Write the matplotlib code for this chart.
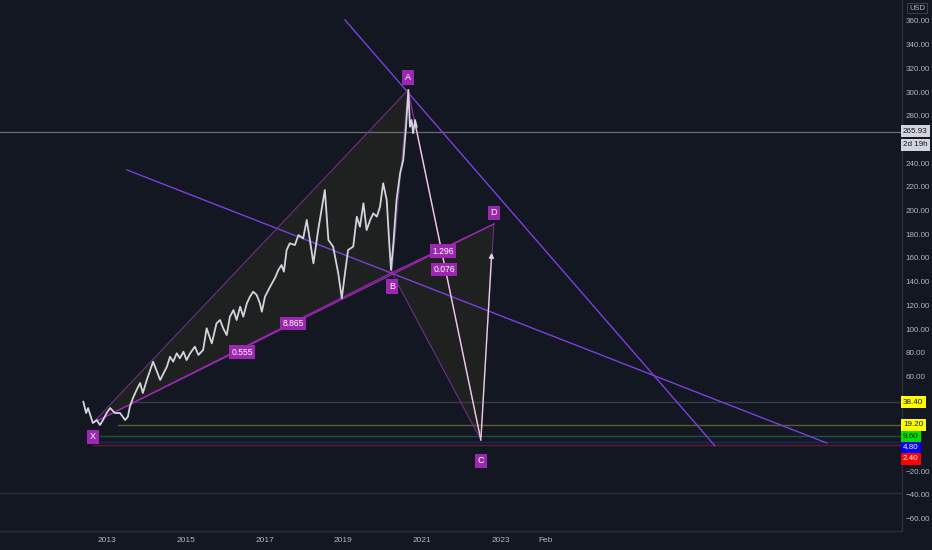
import matplotlib
matplotlib.use('Agg')
import matplotlib.pyplot as plt
from matplotlib.transforms import blended_transform_factory

BG = '#131722'
TXT = '#b2b5be'
plt.rcParams['font.family'] = ['Liberation Sans', 'DejaVu Sans']

# ---- price series (decimal year, USD) ----
years = [2012.40, 2012.47, 2012.52, 2012.64, 2012.74, 2012.82, 2012.90, 2012.99, 2013.08,
         2013.20, 2013.33, 2013.46, 2013.53, 2013.58, 2013.66, 2013.75, 2013.84, 2013.91,
         2014.01, 2014.17, 2014.35, 2014.52, 2014.60, 2014.68, 2014.77, 2014.85, 2014.94,
         2015.02, 2015.11, 2015.23, 2015.32, 2015.44, 2015.53, 2015.66, 2015.78, 2015.87,
         2015.95, 2016.04, 2016.12, 2016.21, 2016.29, 2016.38, 2016.46, 2016.55, 2016.63,
         2016.71, 2016.80, 2016.88, 2016.93, 2017.01, 2017.14, 2017.26, 2017.35, 2017.43,
         2017.49, 2017.56, 2017.64, 2017.77, 2017.86, 2017.98, 2018.07, 2018.15, 2018.24,
         2018.36, 2018.53, 2018.62, 2018.74, 2018.87, 2018.96, 2019.04, 2019.12, 2019.25,
         2019.34, 2019.42, 2019.51, 2019.59, 2019.68, 2019.76, 2019.85, 2019.93, 2020.01,
         2020.10, 2020.17, 2020.21, 2020.27, 2020.35, 2020.44, 2020.52, 2020.59, 2020.65,
         2020.69, 2020.73, 2020.77, 2020.82, 2020.86]
prices = [38.6, 29.1, 33.3, 20.7, 23.2, 19.0, 23.2, 29.1, 33.3,
          29.1, 29.1, 23.2, 26.0, 34.4, 41.8, 48.5, 54.4, 46.0,
          57.0, 72.4, 57.0, 68.2, 76.6, 72.4, 79.5, 75.3, 80.8,
          73.8, 79.5, 85.1, 78.1, 82.3, 100.6, 87.9, 104.8, 107.6,
          100.6, 94.9, 110.4, 116.0, 107.6, 118.8, 110.4, 121.7, 127.3,
          131.5, 128.7, 121.7, 114.6, 127.3, 135.7, 142.8, 149.8, 154.0,
          148.4, 166.7, 172.3, 170.9, 179.3, 176.5, 192.0, 175.1, 155.4,
          183.5, 217.3, 175.1, 169.5, 147.0, 125.9, 147.0, 166.7, 169.5,
          194.8, 186.3, 206.1, 183.5, 192.0, 197.6, 194.8, 203.2, 223.0,
          208.9, 169.5, 149.8, 172.3, 208.9, 231.4, 242.6, 270.7, 301.7,
          270.7, 276.4, 265.2, 276.4, 270.7]

# ---- XABCD pattern ----
pattern_names = ['X', 'A', 'B', 'C', 'D']
pattern_years = [2012.64, 2020.64, 2020.23, 2022.49, 2022.82]
pattern_prices = [20.7, 301.7, 147.5, 6.3, 188.6]
ratio_texts = ['0.555', '8.865', '1.296', '0.076']
ratio_pairs = [(0, 2), (0, 4), (2, 4), (1, 3)]

# projection path (white arrow)
proj_years = [2020.82, 2022.49, 2022.77]
proj_prices = [273.8, 6.3, 166.7]

# trend lines
trend1_years = [2019.04, 2028.43]
trend1_prices = [360.8, 1.5]
trend2_years = [2013.51, 2031.27]
trend2_prices = [234.2, 3.8]

# horizontal levels
level_values = [38.40, 19.20, 9.60, 4.80, 2.40]
level_starts = [2013.58, 2013.28, 2012.82, 2012.66, 2012.64]
lower_level = -38.4
last_price = 265.93
countdown = '2d 19h'

year_ticks = [2013, 2015, 2017, 2019, 2021, 2023, 2024.12]
year_labels = ['2013', '2015', '2017', '2019', '2021', '2023', 'Feb']
price_ticks = [-60, -40, -20, 60, 80, 100, 120, 140, 160, 180, 200, 220, 240, 280, 300, 320, 340, 360]

# ---- styles / layout ----
level_line_colors = ['#383b45', '#5e5e26', '#1d5232', '#1c2766', '#641d26']
level_box_colors = ['#ffff00', '#ffff00', '#00e000', '#0000ff', '#ff0000']
level_text_colors = ['#131722', '#131722', '#131722', '#ffffff', '#ffffff']
level_label_y = [38.4, 19.0, 9.0, -0.4, -9.7]
PURPLE = '#9c27b0'
PURPLE_DIM = '#6f2d86'
TREND = '#7b3fe0'
FS = 5.8

W, H = 932, 550
fig = plt.figure(figsize=(W / 100, H / 100), dpi=100, facecolor=BG)
ax = fig.add_axes([0, 19 / H, 902 / W, 1 - 19 / H], facecolor=BG)
ax.set_xlim(2010.284, 2033.18)
ax.set_ylim(-70.46, 377.64)

# pattern fills
px, py = pattern_years, pattern_prices
ax.fill([px[0], px[1], px[2]], [py[0], py[1], py[2]], color='#1e2120', lw=0, zorder=1)
ax.fill([px[2], px[3], px[4]], [py[2], py[3], py[4]], color='#1e2120', lw=0, zorder=1)

# horizontal lines
ax.axhline(last_price, color='#6a6d78', lw=0.9, zorder=2)
ax.axhline(lower_level, color='#2a2e39', lw=1.0, zorder=2)
for v, s, c in zip(level_values, level_starts, level_line_colors):
    ax.plot([s, 2033.18], [v, v], color=c, lw=1.0, zorder=2)

# trend lines
ax.plot(trend1_years, trend1_prices, color=TREND, lw=1.0, zorder=3)
ax.plot(trend2_years, trend2_prices, color=TREND, lw=1.0, zorder=3)

# pattern legs and ratio lines
ax.plot(px, py, color=PURPLE_DIM, lw=0.8, zorder=3)
for (i, j) in ratio_pairs:
    ax.plot([px[i], px[j]], [py[i], py[j]], color=PURPLE, lw=0.9, zorder=3)

# price line
ax.plot(years, prices, color='#d1d4dc', lw=1.3, zorder=4)

# projection arrow
ax.plot(proj_years[:2], proj_prices[:2], color='#e8cce0', lw=1.0, zorder=5)
ax.annotate('', xy=(proj_years[2], proj_prices[2]), xytext=(proj_years[1], proj_prices[1]),
            arrowprops=dict(arrowstyle='-|>', color='#e8cce0', lw=1.0, mutation_scale=7), zorder=5)

# pattern point labels
offsets = [(0, -10), (0, 9), (0, -10), (0, -15), (0, 8)]
for name, x, y, off in zip(pattern_names, px, py, offsets):
    ax.annotate(name, (x, y), xytext=off, textcoords='offset points', ha='center', va='center',
                fontsize=6.5, color='white', zorder=7,
                bbox=dict(boxstyle='square,pad=0.3', fc=PURPLE, ec='none'))

# ratio labels
ratio_dy = [-3, 0, -2, -3]
for t, (i, j), dy in zip(ratio_texts, ratio_pairs, ratio_dy):
    mx, my = (px[i] + px[j]) / 2, (py[i] + py[j]) / 2
    ax.annotate(t, (mx, my), xytext=(0, dy), textcoords='offset points', ha='center', va='center',
                fontsize=6.2, color='white', zorder=7,
                bbox=dict(boxstyle='square,pad=0.25', fc=PURPLE, ec='none'))

# axes styling
for s in ['top', 'left']:
    ax.spines[s].set_visible(False)
for s in ['right', 'bottom']:
    ax.spines[s].set_color('#2a2e39')
    ax.spines[s].set_linewidth(1)
ax.yaxis.tick_right()
ax.set_yticks(price_ticks)
ax.set_yticklabels([f'{v:.2f}'.replace('-', '\u2212') for v in price_ticks])
ax.set_xticks(year_ticks)
ax.set_xticklabels(year_labels)
ax.tick_params(axis='y', length=0, pad=2.5, labelsize=FS, colors=TXT)
ax.tick_params(axis='x', length=0, pad=4, labelsize=6, colors=TXT)

# right axis price labels
tr = blended_transform_factory(fig.transFigure, ax.transData)
xlab = 903 / W
for v, ly, bc, tc in zip(level_values, level_label_y, level_box_colors, level_text_colors):
    ax.text(xlab, ly, f'{v:.2f}', transform=tr, ha='left', va='center', fontsize=FS, color=tc,
            bbox=dict(boxstyle='square,pad=0.3', fc=bc, ec='none'), clip_on=False, zorder=8)
ax.text(xlab, last_price + 1.0, f'{last_price:.2f}', transform=tr, ha='left', va='center', fontsize=FS,
        color='#131722', bbox=dict(boxstyle='square,pad=0.3', fc='#d1d4dc', ec='none'), clip_on=False, zorder=8)
ax.text(xlab, last_price - 10.5, countdown, transform=tr, ha='left', va='center', fontsize=FS,
        color='#131722', bbox=dict(boxstyle='square,pad=0.3', fc='#d1d4dc', ec='none'), clip_on=False, zorder=8)

fig.text(917 / W, 1 - 8 / H, 'USD', ha='center', va='center', fontsize=5.5, color=TXT,
         bbox=dict(boxstyle='square,pad=0.2', fc=BG, ec='#434651', lw=0.6))

fig.savefig('out.png', dpi=100, facecolor=BG)
